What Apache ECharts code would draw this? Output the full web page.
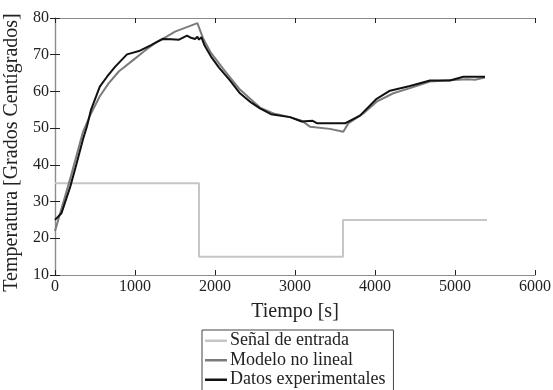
<!DOCTYPE html>
<html>
<head>
<meta charset="utf-8">
<script src="https://cdn.jsdelivr.net/npm/echarts@6/dist/echarts.min.js"></script>
<style>
  html, body { margin: 0; padding: 0; background: #fff; }
  #chart { width: 553px; height: 390px; }
</style>
</head>
<body>
<div id="chart"></div>
<script>
// Input signal (step changes)
const inputTime = [0, 1800, 3600, 5400];
const inputValue = [35, 15, 25, 25];

// Nonlinear model response
const modelTime = [0, 100, 200, 300, 350, 450, 560, 670, 800, 980, 1130, 1270, 1400, 1500, 1780,
  1850, 1950, 2100, 2200, 2312, 2450, 2562, 2730, 2937, 3083, 3187, 3437, 3604, 3666,
  3854, 4021, 4229, 4437, 4687, 4979, 5150, 5250, 5375];
const modelTemp = [22, 29.5, 37, 45, 49, 54, 58.7, 62.2, 65.5, 68.6, 71.2, 73.5, 75, 76.3, 78.6,
  74.5, 70.5, 66.2, 63.5, 60.5, 57.8, 55.6, 54, 53, 52, 50.4, 49.8, 49.0, 51.3,
  54, 57.2, 59.5, 60.9, 62.7, 63.1, 63.3, 63.2, 63.8];

// Experimental measurements
const expTime = [0, 80, 190, 270, 350, 400, 450, 560, 650, 750, 900, 1050, 1200, 1350, 1450,
  1550, 1650, 1700, 1750, 1780, 1800, 1830, 1870, 1950, 2050, 2187, 2312, 2450, 2562,
  2700, 2937, 3083, 3221, 3279, 3625, 3812, 4021, 4187, 4437, 4687, 4937, 5104, 5375];
const expTemp = [25, 26.8, 34, 40.4, 47, 50.5, 55, 61.3, 64, 66.7, 70.1, 71, 72.6, 74.3, 74.2,
  74.1, 75.2, 74.6, 74.3, 74.9, 74.1, 74.8, 72.5, 69.5, 66.5, 63, 59.5, 57, 55.4,
  53.8, 53, 51.8, 52, 51.3, 51.3, 53.4, 58, 60.2, 61.5, 63, 63, 64, 64];

const xTicks = [0, 1000, 2000, 3000, 4000, 5000, 6000];
const yTicks = [10, 20, 30, 40, 50, 60, 70, 80];

const pairs = (xs, ys) => xs.map((x, i) => [x, ys[i]]);

const FONT = 'Liberation Serif';
const frameColor = '#8c8c8c';
const tickColor = '#222';

const baseX = {
  type: 'value', min: xTicks[0], max: xTicks[xTicks.length - 1], interval: 1000,
  axisLine: { show: true, lineStyle: { color: frameColor, width: 1.2 } },
  axisTick: { show: true, inside: true, length: 5, lineStyle: { color: tickColor } },
  splitLine: { show: false }
};
const baseY = {
  type: 'value', min: yTicks[0], max: yTicks[yTicks.length - 1], interval: 10,
  axisLine: { show: true, lineStyle: { color: frameColor, width: 1.2 } },
  axisTick: { show: true, inside: true, length: 5, lineStyle: { color: tickColor } },
  splitLine: { show: false }
};

const chart = echarts.init(document.getElementById('chart'), null, { renderer: 'canvas' });
chart.setOption({
  animation: false,
  backgroundColor: '#fff',
  textStyle: { fontFamily: FONT },
  grid: { left: 55, right: 18, top: 18, bottom: 115, containLabel: false, outerBoundsMode: 'none' },
  xAxis: [
    Object.assign({}, baseX, {
      position: 'bottom',
      name: 'Tiempo [s]', nameLocation: 'middle', nameGap: 27,
      nameTextStyle: { fontFamily: FONT, fontSize: 20, color: '#222' },
      axisLabel: { fontFamily: FONT, fontSize: 16, color: '#222', margin: 4,
        formatter: v => String(v) }
    }),
    Object.assign({}, baseX, { position: 'top', axisLabel: { show: false } })
  ],
  yAxis: [
    Object.assign({}, baseY, {
      position: 'left',
      name: 'Temperatura [Grados Centígrados]', nameLocation: 'middle', nameGap: 29,
      nameTextStyle: { fontFamily: FONT, fontSize: 20, color: '#222', padding: [0, 12, 0, 0] },
      axisLabel: { fontFamily: FONT, fontSize: 16, color: '#222', margin: 6 }
    }),
    Object.assign({}, baseY, { position: 'right', axisLabel: { show: false } })
  ],
  legend: {
    orient: 'vertical',
    left: 202, top: 330, height: 80,
    padding: [1, 8, 4, 3],
    itemGap: 0,
    itemWidth: 22, itemHeight: 2.5,
    icon: 'rect',
    borderColor: '#444', borderWidth: 1, borderRadius: 0,
    textStyle: { fontFamily: FONT, fontSize: 18, color: '#222', lineHeight: 19.5, padding: [0, 0, 0, -2] },
    data: ['Señal de entrada', 'Modelo no lineal', 'Datos experimentales']
  },
  series: [
    {
      name: 'Señal de entrada', type: 'line', step: 'end',
      data: pairs(inputTime, inputValue), showSymbol: false,
      lineStyle: { color: '#c6c6c6', width: 2 }, itemStyle: { color: '#c6c6c6' }
    },
    {
      name: 'Modelo no lineal', type: 'line',
      data: pairs(modelTime, modelTemp), showSymbol: false,
      lineStyle: { color: '#7b7b7b', width: 2 }, itemStyle: { color: '#7b7b7b' }
    },
    {
      name: 'Datos experimentales', type: 'line',
      data: pairs(expTime, expTemp), showSymbol: false,
      lineStyle: { color: '#111', width: 2 }, itemStyle: { color: '#111' }
    }
  ]
});
</script>
</body>
</html>
